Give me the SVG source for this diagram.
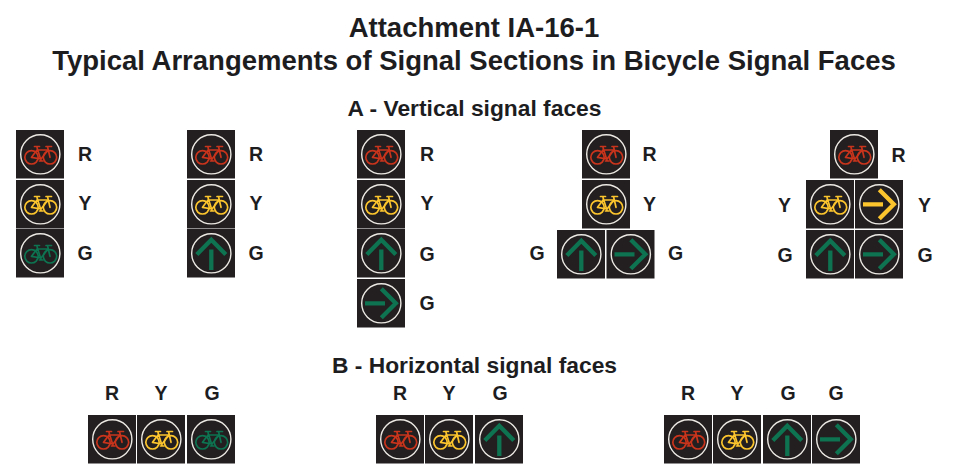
<svg xmlns="http://www.w3.org/2000/svg" xmlns:xlink="http://www.w3.org/1999/xlink" width="961" height="476" viewBox="0 0 961 476">
<style>
text{font-family:"Liberation Sans",Arial,sans-serif;font-weight:bold;fill:#1d1d1f}
.t{font-size:27.5px;text-anchor:middle}
.h{font-size:22.8px;text-anchor:middle}
.l{font-size:19.5px;text-anchor:middle}
.bg{fill:#231f20}
.ring{fill:none;stroke:#ece9e4;stroke-width:1.4}
.bk{fill:none;stroke-width:1.7;stroke-linejoin:round;stroke-linecap:round}
.ar{fill:none;stroke-width:4.3}
.r{stroke:#c8341c}.y{stroke:#fcc52e}.g{stroke:#0d7350}
</style>
<defs>
<g id="base"><rect class="bg" width="48" height="48.500"/><circle class="ring" cx="24.300" cy="24.300" r="19.600"/></g>
<g id="bike"><circle cx="15.500" cy="27.300" r="6.700"/><circle cx="34" cy="27.300" r="6.700"/><path d="M15.500 27.300 21 20H32L25 29 15.500 27.300M21 17.500 25 30.500M31.500 16.500 34 27.300M18.500 16.500H23.500M30 16.500H35.500M23.500 31H27"/></g>
<g id="upa"><path d="M24.300 41V20.500M9.800 25.500 24.300 10.800 38.800 25.500"/></g>
<g id="ria"><path d="M8 24.300H28M24.300 9.800 38.800 24.300 24.300 38.800"/></g>
<g id="rb"><use xlink:href="#base" href="#base"/><use href="#bike" xlink:href="#bike" class="bk r"/></g>
<g id="yb"><use href="#base" xlink:href="#base"/><use href="#bike" xlink:href="#bike" class="bk y"/></g>
<g id="gb"><use href="#base" xlink:href="#base"/><use href="#bike" xlink:href="#bike" class="bk g"/></g>
<g id="gu"><use href="#base" xlink:href="#base"/><use href="#upa" xlink:href="#upa" class="ar g"/></g>
<g id="gr"><use href="#base" xlink:href="#base"/><use href="#ria" xlink:href="#ria" class="ar g"/></g>
<g id="yr"><use href="#base" xlink:href="#base"/><use href="#ria" xlink:href="#ria" class="ar y"/></g>
</defs>
<rect width="961" height="476" fill="#fff"/>
<g id="titles">
<text class="t" x="474" y="37">Attachment IA-16-1</text>
<text class="t" x="474" y="70">Typical Arrangements of Signal Sections in Bicycle Signal Faces</text>
<text class="h" x="474.500" y="115.500">A - Vertical signal faces</text>
<text class="h" x="474.500" y="373">B - Horizontal signal faces</text>
</g>
<g id="connectors"/>
<g id="face-a1">
<use href="#rb" xlink:href="#rb" x="16" y="130"/><use href="#yb" xlink:href="#yb" x="16" y="180"/><use href="#gb" xlink:href="#gb" x="16" y="229"/>
<text class="l" x="85" y="160.500">R</text><text class="l" x="85" y="210">Y</text><text class="l" x="85" y="260">G</text>
</g>
<g id="face-a2">
<use href="#rb" xlink:href="#rb" x="187" y="130"/><use href="#yb" xlink:href="#yb" x="187" y="180"/><use href="#gu" xlink:href="#gu" x="187" y="229"/>
<text class="l" x="256" y="160.500">R</text><text class="l" x="256" y="210">Y</text><text class="l" x="256" y="260">G</text>
</g>
<g id="face-a3">
<use href="#rb" xlink:href="#rb" x="357" y="130"/><use href="#yb" xlink:href="#yb" x="357" y="180"/><use href="#gu" xlink:href="#gu" x="357" y="229"/><use href="#gr" xlink:href="#gr" x="357" y="279"/>
<text class="l" x="427" y="160.500">R</text><text class="l" x="427" y="210">Y</text><text class="l" x="427" y="260.500">G</text><text class="l" x="427" y="309.500">G</text>
</g>
<g id="face-a4">
<use href="#rb" xlink:href="#rb" x="582" y="130"/><use href="#yb" xlink:href="#yb" x="582" y="180"/><use href="#gu" xlink:href="#gu" x="557" y="230"/><use href="#gr" xlink:href="#gr" x="606.500" y="230"/>
<text class="l" x="649.500" y="160.500">R</text><text class="l" x="649.500" y="210.500">Y</text><text class="l" x="537" y="260">G</text><text class="l" x="675.500" y="260">G</text>
</g>
<g id="face-a5">
<use href="#rb" xlink:href="#rb" x="830" y="130"/><use href="#yb" xlink:href="#yb" x="806" y="180"/><use href="#yr" xlink:href="#yr" x="855" y="180"/><use href="#gu" xlink:href="#gu" x="806" y="230"/><use href="#gr" xlink:href="#gr" x="855" y="230"/>
<text class="l" x="898.500" y="161.500">R</text><text class="l" x="784.500" y="212">Y</text><text class="l" x="924.500" y="212">Y</text><text class="l" x="785" y="261.500">G</text><text class="l" x="925" y="261.500">G</text>
</g>
<g id="face-b1">
<use href="#rb" xlink:href="#rb" x="88" y="415"/><use href="#yb" xlink:href="#yb" x="137" y="415"/><use href="#gb" xlink:href="#gb" x="187" y="415"/>
<text class="l" x="112" y="400">R</text><text class="l" x="161" y="400">Y</text><text class="l" x="212" y="400">G</text>
</g>
<g id="face-b2">
<use href="#rb" xlink:href="#rb" x="376" y="415"/><use href="#yb" xlink:href="#yb" x="425" y="415"/><use href="#gu" xlink:href="#gu" x="475" y="415"/>
<text class="l" x="400" y="400">R</text><text class="l" x="449" y="400">Y</text><text class="l" x="500" y="400">G</text>
</g>
<g id="face-b3">
<use href="#rb" xlink:href="#rb" x="664" y="415"/><use href="#yb" xlink:href="#yb" x="713" y="415"/><use href="#gu" xlink:href="#gu" x="763" y="415"/><use href="#gr" xlink:href="#gr" x="812" y="415"/>
<text class="l" x="688" y="400">R</text><text class="l" x="737" y="400">Y</text><text class="l" x="788" y="400">G</text><text class="l" x="836" y="400">G</text>
</g>
</svg>
